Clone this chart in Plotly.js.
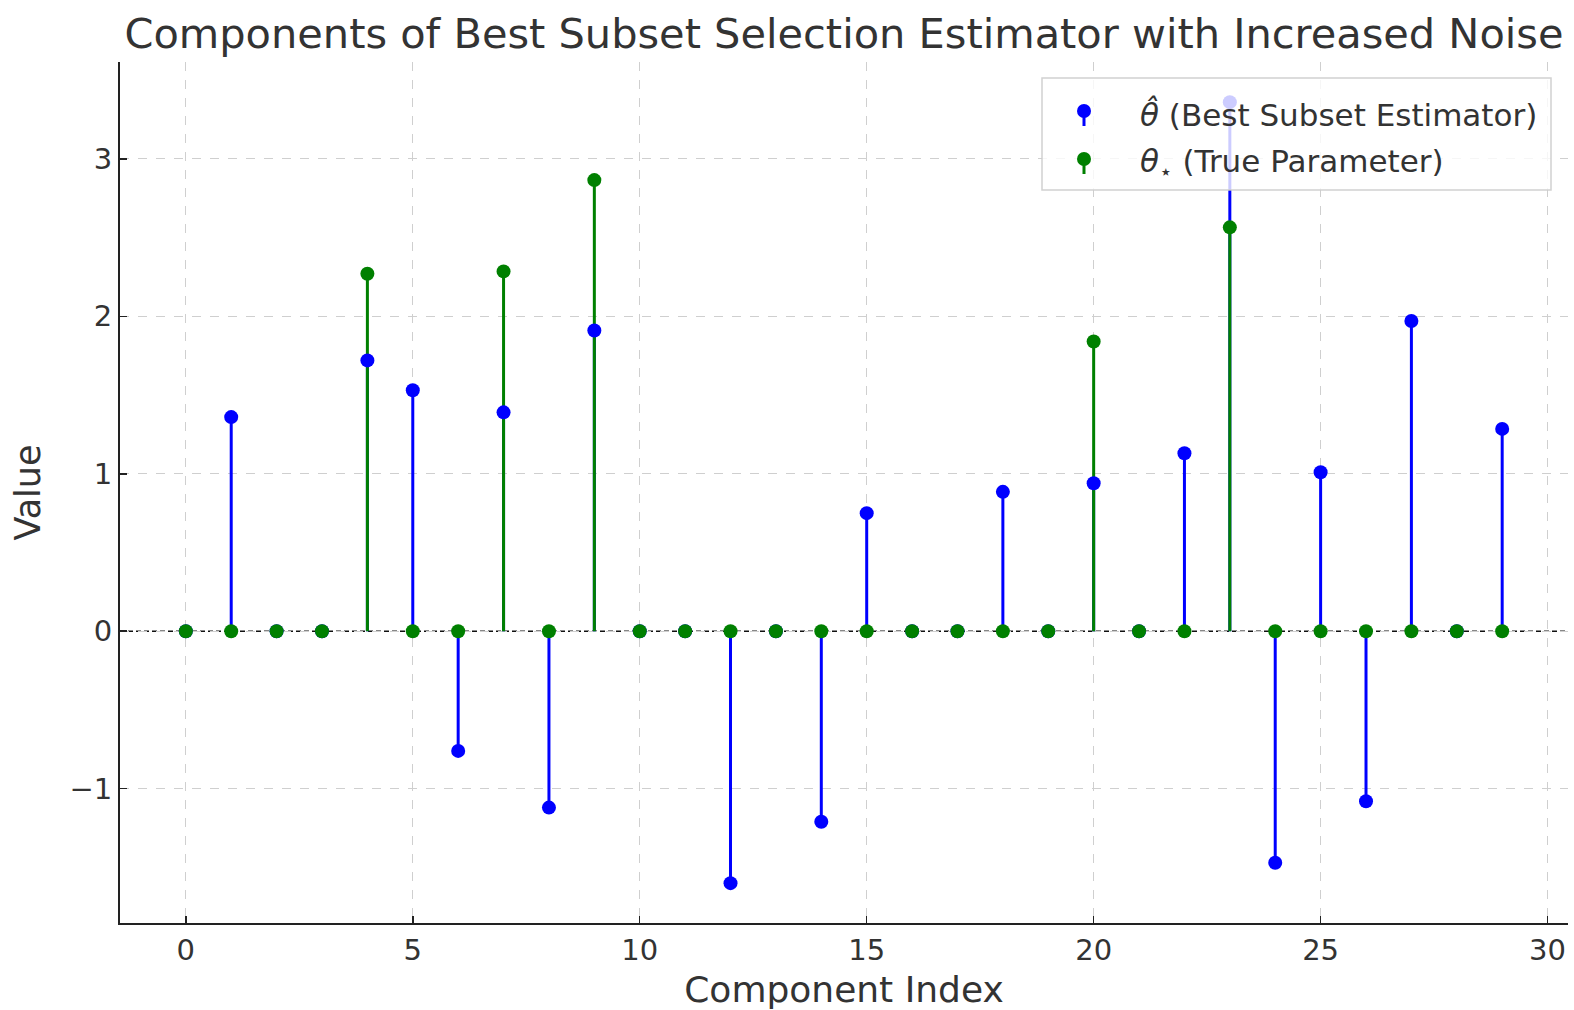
<!DOCTYPE html>
<html>
<head>
<meta charset="utf-8">
<script src="https://cdn.plot.ly/plotly-3.0.1.min.js"></script>
<style>html,body{margin:0;padding:0;background:#fff;}#chart{width:1574px;height:1010px;}</style>
</head>
<body>
<div id="chart"></div>
<script>
// ---- data ----
const componentIndex = [0,1,2,3,4,5,6,7,8,9,10,11,12,13,14,15,16,17,18,19,20,21,22,23,24,25,26,27,28,29];
const thetaHat = [0, 1.36, 0, 0, 1.72, 1.53, -0.76, 1.39, -1.12, 1.91, 0, 0, -1.60, 0, -1.21, 0.75, 0, 0, 0.885, 0, 0.94, 0, 1.13, 3.36, -1.47, 1.01, -1.08, 1.97, 0, 1.285];
const thetaStar = [0, 0, 0, 0, 2.27, 0, 0, 2.285, 0, 2.865, 0, 0, 0, 0, 0, 0, 0, 0, 0, 0, 1.84, 0, 0, 2.565, 0, 0, 0, 0, 0, 0];
const seriesNames = ['<i>θ̂</i> (Best Subset Estimator)', '<i>θ</i><sub>⋆</sub> (True Parameter)'];
const xTicks = [0,5,10,15,20,25,30];
const yTicks = [-1,0,1,2,3];

const BLUE = '#0000ff', GREEN = '#008000';

function stems(xs, ys) {
  const sx = [], sy = [];
  xs.forEach((x, i) => { sx.push(x, x, null); sy.push(0, ys[i], null); });
  return {x: sx, y: sy};
}
const sb = stems(componentIndex, thetaHat);
const sg = stems(componentIndex, thetaStar);

const traces = [
  {x: sb.x, y: sb.y, mode: 'lines', line: {color: BLUE, width: 3}, hoverinfo: 'skip', showlegend: false},
  {x: sg.x, y: sg.y, mode: 'lines', line: {color: GREEN, width: 3}, hoverinfo: 'skip', showlegend: false},
  {x: componentIndex, y: thetaHat, mode: 'markers', marker: {color: BLUE, size: 14}, name: seriesNames[0], showlegend: false},
  {x: componentIndex, y: thetaStar, mode: 'markers', marker: {color: GREEN, size: 14}, name: seriesNames[1], showlegend: false}
];

// plot-area geometry (pixels) for placing the hand-made legend
const M = {l: 120, r: 6, t: 62, b: 87};
const W = 1574, H = 1010;
const PW = W - M.l - M.r, PH = H - M.t - M.b;
const px = X => (X - M.l) / PW;
const py = Y => (H - M.b - Y) / PH;

const font = 'DejaVu Sans, sans-serif';
const shapes = [
  {type: 'line', xref: 'paper', yref: 'y', x0: 0, x1: 1, y0: 0, y1: 0,
   line: {color: '#111', width: 1.5, dash: '5px,3px'}, layer: 'below'},
  // legend box
  {type: 'rect', xref: 'paper', yref: 'paper', x0: px(1042), x1: px(1551), y0: py(190), y1: py(78),
   fillcolor: 'rgba(255,255,255,0.8)', line: {color: 'rgba(204,204,204,0.9)', width: 1.5}, layer: 'above'}
];
const legendRows = [{Y: 111, c: BLUE}, {Y: 159, c: GREEN}];
legendRows.forEach(r => {
  shapes.push({type: 'line', xref: 'paper', yref: 'paper', x0: px(1084), x1: px(1084), y0: py(r.Y), y1: py(r.Y + 15),
    line: {color: r.c, width: 3}, layer: 'above'});
  shapes.push({type: 'circle', xref: 'paper', yref: 'paper', xsizemode: 'pixel', ysizemode: 'pixel',
    xanchor: px(1084), yanchor: py(r.Y), x0: -7, x1: 7, y0: -7, y1: 7,
    fillcolor: r.c, line: {width: 0}, layer: 'above'});
});

const annotations = [
  {xref: 'paper', yref: 'paper', x: px(1138), y: py(114), xanchor: 'left', yanchor: 'middle', showarrow: false,
   text: seriesNames[0], font: {family: font, size: 31, color: '#333'}},
  {xref: 'paper', yref: 'paper', x: px(1138), y: py(163), xanchor: 'left', yanchor: 'middle', showarrow: false,
   text: seriesNames[1], font: {family: font, size: 31, color: '#333'}}
];

const layout = {
  width: W, height: H,
  margin: M,
  paper_bgcolor: '#fff', plot_bgcolor: '#fff',
  font: {family: font, color: '#333'},
  showlegend: false,
  title: {text: 'Components of Best Subset Selection Estimator with Increased Noise',
    font: {family: font, size: 41.5, color: '#333'}, x: 0.5, xref: 'paper', xanchor: 'center',
    y: 1 - 33 / H, yref: 'container', yanchor: 'middle'},
  xaxis: {
    range: [-1.45, 30.45], tickvals: xTicks, ticktext: xTicks.map(String),
    showgrid: true, gridcolor: '#cfcfcf', gridwidth: 1, griddash: 'dash',
    zeroline: false, showline: true, linecolor: '#222', linewidth: 2,
    ticks: 'inside', ticklen: 7, tickwidth: 1.5, tickcolor: '#222',
    tickfont: {family: font, size: 29, color: '#333'},
    title: {text: 'Component Index', font: {family: font, size: 36, color: '#333'}, standoff: 12}
  },
  yaxis: {
    range: [-1.853, 3.615], tickvals: yTicks,
    showgrid: true, gridcolor: '#cfcfcf', gridwidth: 1, griddash: 'dash',
    zeroline: false, showline: true, linecolor: '#222', linewidth: 2,
    ticks: 'inside', ticklen: 7, tickwidth: 1.5, tickcolor: '#222',
    tickfont: {family: font, size: 29, color: '#333'},
    title: {text: 'Value', font: {family: font, size: 35, color: '#333'}, standoff: 18}
  },
  shapes: shapes,
  annotations: annotations
};

Plotly.newPlot('chart', traces, layout, {displayModeBar: false, staticPlot: true});
</script>
</body>
</html>
